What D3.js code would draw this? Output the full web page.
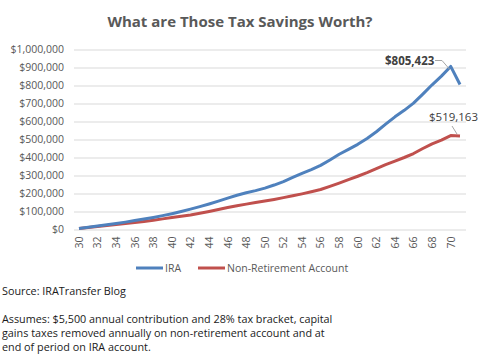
<!DOCTYPE html>
<html>
<head>
<meta charset="utf-8">
<script src="https://cdn.jsdelivr.net/npm/d3@7"></script>
<style>
  body { margin: 0; background: #fff; }
  svg { display: block; }
</style>
</head>
<body>
<svg id="chart" width="494" height="362"></svg>
<script>
const ages = d3.range(30, 72)
// values, in dollars
const ira = [5800, 12000, 19000, 26000, 33000, 41000, 50000, 58000, 67000, 77000,
  88000, 100000, 113000, 127000, 142000, 158000, 174000, 190000, 204000, 216000,
  230000, 247000, 266000, 289000, 312000, 333000, 356000, 386000, 418000, 445000,
  473000, 506000, 543000, 585000, 626000, 662000, 702000, 752000, 804000, 852000,
  906000, 805423]
const nonRet = [5600, 11000, 17000, 22000, 28000, 33000, 39000, 45000, 52000, 59000,
  67000, 74000, 81000, 90000, 100000, 111000, 122000, 132000, 141000, 150000,
  158000, 167000, 177000, 187000, 198000, 210000, 222000, 240000, 258000, 277000,
  296000, 316000, 338000, 360000, 380000, 400000, 422000, 450000, 476000, 497000,
  522000, 519163]
const yTicks = d3.range(0, 1000001, 100000)
const TITRE = 'What are Those Tax Savings Worth?'
const notes = ['Source: IRATransfer Blog', '',
  'Assumes: $5,500 annual contribution and 28% tax bracket, capital',
  'gains taxes removed annually on non-retirement account and at',
  'end of period on IRA account.']

const POLICE = '"Open Sans", "Liberation Sans", sans-serif'
const GRIS_TEXTE = '#595959'
const BLEU = '#4F81BD'
const ROUGE = '#C0504D'

const svg = d3.select('#chart')

// echelles
const x = d3.scalePoint().domain(ages).range([79, 460])
const y = d3.scaleLinear().domain([0, 1000000]).range([229.5, 49.5])

//Titre
svg.append('text').text(TITRE).attr('x', 240).attr('y', 27).attr('text-anchor', 'middle')
  .attr('font-family', POLICE).attr('font-weight', 'bold').attr('font-size', 15).attr('fill', GRIS_TEXTE)

//Axe Y avec grille
const axeY = svg.append('g').attr('transform', 'translate(74,0)')
  .call(d3.axisLeft(y).tickValues(yTicks).tickFormat(d3.format('$,.0f')).tickSize(-392).tickPadding(10))
axeY.select('.domain').remove()
axeY.selectAll('line').attr('stroke', '#D9D9D9').attr('stroke-width', 1)
axeY.selectAll('text').attr('font-family', POLICE).attr('font-size', 10.5).attr('fill', GRIS_TEXTE)

//Axe X, etiquettes verticales une annee sur deux
const axeX = svg.append('g').attr('transform', 'translate(0,' + y(0) + ')')
  .call(d3.axisBottom(x).tickValues(ages.filter(a => a % 2 == 0)).tickSize(0).tickPadding(6))
axeX.select('.domain').remove()
axeX.selectAll('text').attr('font-family', POLICE).attr('font-size', 10.5).attr('fill', GRIS_TEXTE)
  .attr('transform', 'rotate(-90)').attr('text-anchor', 'end').attr('dy', '0.32em')
  .attr('x', -7).attr('y', 0)

//Lignes
const ligne = d3.line().x((d, i) => x(ages[i])).y(d => y(d))
svg.append('path').datum(nonRet).attr('d', ligne).attr('fill', 'none')
  .attr('stroke', ROUGE).attr('stroke-width', 3).attr('stroke-linejoin', 'round')
svg.append('path').datum(ira).attr('d', ligne).attr('fill', 'none')
  .attr('stroke', BLEU).attr('stroke-width', 3).attr('stroke-linejoin', 'round')

//Etiquettes de donnees avec lignes de rappel
const dernier = ages.length - 1
function etiquette(valeur, lx, ly, pts, gras) {
  svg.append('polyline').attr('points', pts.map(p => p.join(',')).join(' '))
    .attr('fill', 'none').attr('stroke', '#A6A6A6').attr('stroke-width', 1)
  svg.append('text').text(d3.format('$,.0f')(valeur)).attr('x', lx).attr('y', ly)
    .attr('font-family', POLICE).attr('font-weight', gras ? 'bold' : 'normal')
    .attr('font-size', 11.5).attr('fill', '#404040')
}
etiquette(ira[dernier], 385, 65, [[435, 60.5], [442, 60.5], [x(70) - 1, y(ira[dernier - 1]) + 3]], true)
etiquette(nonRet[dernier], 429, 121, [[452, 126], [457, y(nonRet[dernier]) - 2]], false)

//Legende
const legende = [{ nom: 'IRA', couleur: BLEU, x: 136 }, { nom: 'Non-Retirement Account', couleur: ROUGE, x: 198 }]
legende.forEach(l => {
  svg.append('line').attr('x1', l.x).attr('x2', l.x + 27).attr('y1', 268).attr('y2', 268)
    .attr('stroke', l.couleur).attr('stroke-width', 3)
  svg.append('text').text(l.nom).attr('x', l.x + 29).attr('y', 272)
    .attr('font-family', POLICE).attr('font-size', 10.5).attr('fill', GRIS_TEXTE)
})

//Notes en bas
notes.forEach((t, i) => {
  svg.append('text').text(t).attr('x', 2).attr('y', 295 + i * 14)
    .attr('font-family', POLICE).attr('font-size', 10.8).attr('fill', '#1a1a1a')
})
</script>
</body>
</html>
